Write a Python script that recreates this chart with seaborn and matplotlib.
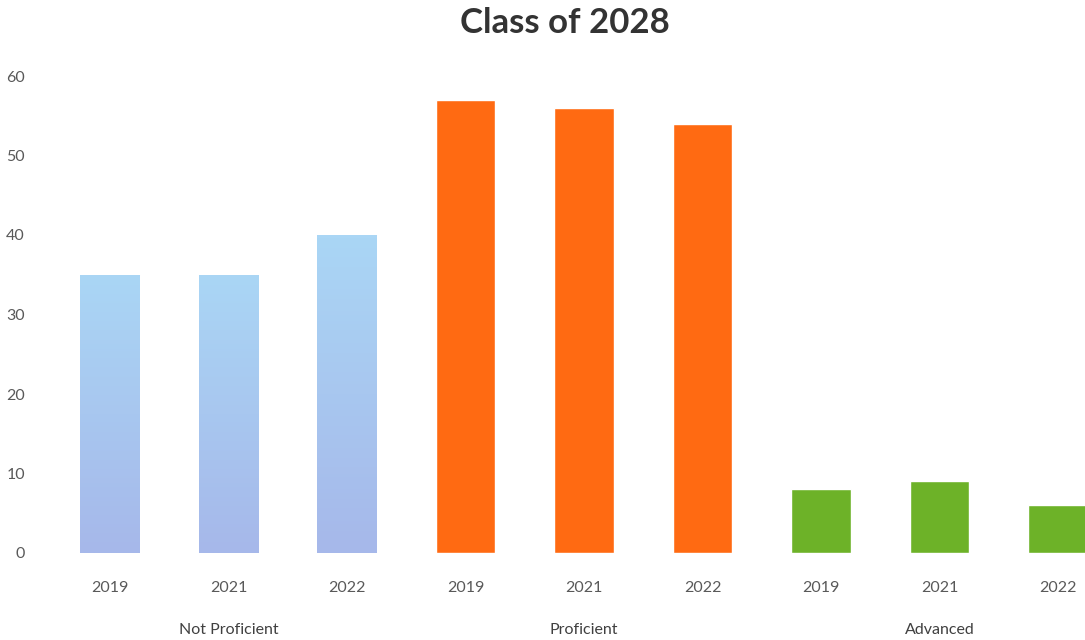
import matplotlib
matplotlib.use("Agg")
import matplotlib.pyplot as plt
import matplotlib.transforms as mtransforms
import numpy as np
import pandas as pd
import seaborn as sns

groups = ["Not Proficient", "Proficient", "Advanced"]
years = ["2019", "2021", "2022"]
not_proficient = [35, 35, 40]
proficient = [57, 56, 54]
advanced = [8, 9, 6]
title = "Class of 2028"

colors = {"Not Proficient": "#A6C6F0", "Proficient": "#FF6A12", "Advanced": "#6DB228"}

rows = []
for g, vals in zip(groups, [not_proficient, proficient, advanced]):
    for y, v in zip(years, vals):
        rows.append({"group": g, "year": y, "key": f"{g}|{y}", "value": v})
df = pd.DataFrame(rows)

sns.set_theme(style="white")
plt.rcParams["font.family"] = ["Lato", "DejaVu Sans"]

W, H = 1085, 640
fig = plt.figure(figsize=(W / 100, H / 100), dpi=100)
left_px, right_px = 50, 1085
bottom_px, top_px = 553, 76
ax = fig.add_axes([left_px / W, (H - bottom_px) / H, (right_px - left_px) / W, (bottom_px - top_px) / H])

sns.barplot(data=df, x="key", y="value", hue="group", palette=colors, dodge=False,
            width=0.5, ax=ax, legend=False, saturation=1)

# gradient for blue bars
for p in ax.patches:
    fc = p.get_facecolor()
    if abs(fc[0] - 0xA6 / 255) < 0.02 and abs(fc[2] - 0xF0 / 255) < 0.02:
        x0, y0 = p.get_x(), p.get_y()
        w, h = p.get_width(), p.get_height()
        top = np.array([0xAA, 0xD6, 0xF5]) / 255
        bot = np.array([0xA6, 0xB8, 0xEA]) / 255
        t = np.linspace(0, 1, 100)[:, None]
        grad = (bot * (1 - t) + top * t)[:, None, :]
        im = ax.imshow(grad, extent=[x0, x0 + w, y0, y0 + h], origin="lower",
                       aspect="auto", zorder=p.get_zorder() + 0.1)
        im.set_clip_path(p)

# positions: bar 0 centered at 110px, spacing 118.5px
sp = 118.5
ax.set_xlim((left_px - 110) / sp, (right_px - 110) / sp)
ax.set_ylim(0, 60)
ax.set_yticks(range(0, 61, 10))
ax.set_xticks(range(9))
ax.set_xticklabels(years * 3)
ax.tick_params(axis="both", length=0, labelsize=11.5, labelcolor="#595959")
ax.tick_params(axis="x", pad=20)
ax.tick_params(axis="y", pad=18)
for lbl in ax.get_yticklabels():
    lbl.set_horizontalalignment("right")
ax.set_xlabel("")
ax.set_ylabel("")
for s in ax.spines.values():
    s.set_visible(False)

trans = mtransforms.blended_transform_factory(ax.transData, fig.transFigure)
for i, g in enumerate(groups):
    ax.text(3 * i + 1, 1 - 630 / H, g, transform=trans, ha="center", va="center",
            fontsize=11.5, color="#404040")

fig.text(565 / W, 1 - 23 / H, title, ha="center", va="center", fontsize=25,
         fontweight="bold", color="#333333")

fig.savefig("out.png", dpi=100)
